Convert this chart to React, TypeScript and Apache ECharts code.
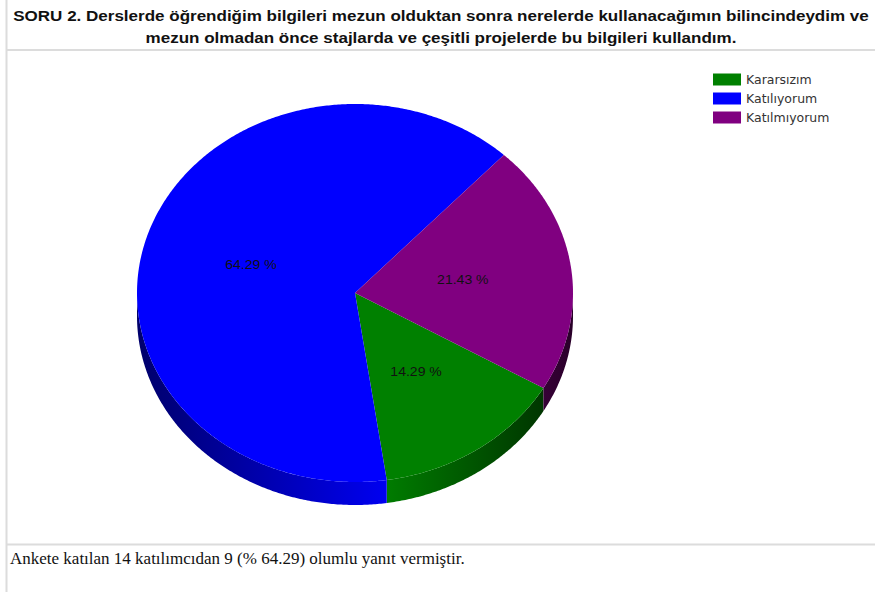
import React, { useEffect, useRef } from 'react';
import * as echarts from 'echarts';

const categories = ['Kararsızım', 'Katılıyorum', 'Katılmıyorum'];
const counts = [2, 9, 3];
const colors = ['#008000', '#0000ff', '#800080'];
const titleLines = [
  'SORU 2. Derslerde öğrendiğim bilgileri mezun olduktan sonra nerelerde kullanacağımın bilincindeydim ve',
  'mezun olmadan önce stajlarda ve çeşitli projelerde bu bilgileri kullandım.',
];
const footerText = 'Ankete katılan 14 katılımcıdan 9 (% 64.29) olumlu yanıt vermiştir.';

const CX = 355;
const CY = 293;
const RX = 218;
const RY = 189;
const DEPTH = 23;
const START = (30.2 * Math.PI) / 180;

function shade(hex: string, f: number) {
  const h = hex.replace('#', '');
  const r = Math.round(parseInt(h.slice(0, 2), 16) * f);
  const g = Math.round(parseInt(h.slice(2, 4), 16) * f);
  const b = Math.round(parseInt(h.slice(4, 6), 16) * f);
  return `rgb(${r},${g},${b})`;
}

function arcPts(a0: number, a1: number, dy: number) {
  const n = Math.max(2, Math.ceil((a1 - a0) / (Math.PI / 360)));
  const pts: number[][] = [];
  for (let i = 0; i <= n; i++) {
    const t = a0 + ((a1 - a0) * i) / n;
    pts.push([CX + RX * Math.cos(t), CY + dy + RY * Math.sin(t)]);
  }
  return pts;
}

const total = counts.reduce((a, b) => a + b, 0);

function makeRender(idx: number) {
  return (params: any, api: any) => {
    const v = api.value(0) as number;
    const before = counts.slice(0, idx).reduce((a, b) => a + b, 0);
    const a0 = START + (before / total) * Math.PI * 2;
    const a1 = a0 + (v / total) * Math.PI * 2;
    const color = colors[idx];
    const children: any[] = [];
    const fronts = [
      [0, Math.PI],
      [Math.PI * 2, Math.PI * 3],
    ];
    for (const [lo, hi] of fronts) {
      const s = Math.max(a0, lo);
      const e = Math.min(a1, hi);
      if (e > s) {
        const top = arcPts(s, e, 0);
        const bot = arcPts(s, e, DEPTH).reverse();
        children.push({
          type: 'polygon',
          shape: { points: top.concat(bot) },
          style: {
            fill: {
              type: 'linear',
              x: CX - RX,
              y: 0,
              x2: CX + RX,
              y2: 0,
              global: true,
              colorStops: [
                { offset: 0, color: shade(color, 0.42) },
                { offset: 0.58, color: shade(color, 0.95) },
                { offset: 1, color: shade(color, 0.32) },
              ],
            },
          },
        });
      }
    }
    children.push({
      type: 'polygon',
      shape: { points: [[CX, CY]].concat(arcPts(a0, a1, 0)) },
      style: { fill: color },
    });
    const m = (a0 + a1) / 2;
    children.push({
      type: 'text',
      x: CX + 0.5 * RX * Math.cos(m),
      y: CY + 0.5 * RY * Math.sin(m),
      scaleX: 1.08,
      style: {
        text: ((v / total) * 100).toFixed(2) + ' %',
        font: '13px "Liberation Sans", Arial, sans-serif',
        fill: '#111',
        align: 'center',
        verticalAlign: 'middle',
      },
    });
    return { type: 'group', children };
  };
}

export default function App() {
  const ref = useRef<HTMLDivElement>(null);
  useEffect(() => {
    if (!ref.current) return;
    const chart = echarts.init(ref.current, undefined, { renderer: 'svg' });
    chart.setOption({
      animation: false,
      backgroundColor: '#ffffff',
      legend: {
        orient: 'vertical',
        left: 708,
        top: 68,
        icon: 'rect',
        itemWidth: 28,
        itemHeight: 12,
        itemGap: 6,
        data: categories,
        textStyle: {
          fontFamily: '"DejaVu Sans", Verdana, sans-serif',
          fontSize: 12.5,
          color: '#333',
        },
      },
      series: categories.map((name, i) => ({
        type: 'custom',
        name,
        coordinateSystem: 'none',
        itemStyle: { color: colors[i] },
        data: [[counts[i]]],
        renderItem: makeRender(i),
      })),
      graphic: [
        { type: 'line', shape: { x1: 6.5, y1: 0, x2: 6.5, y2: 592 }, style: { stroke: '#dcdcdc', lineWidth: 2 } },
        { type: 'line', shape: { x1: 6, y1: 50, x2: 875, y2: 50 }, style: { stroke: '#dcdcdc', lineWidth: 2 } },
        { type: 'line', shape: { x1: 6, y1: 544.5, x2: 875, y2: 544.5 }, style: { stroke: '#dcdcdc', lineWidth: 2 } },
        ...titleLines.map((t, i) => ({
          type: 'text',
          x: 441,
          y: 15 + i * 22,
          scaleX: 1.135,
          style: {
            text: t,
            font: 'bold 15px "Liberation Sans", Arial, sans-serif',
            fill: '#111',
            align: 'center',
            verticalAlign: 'middle',
          },
        })),
        {
          type: 'text',
          x: 10,
          y: 558,
          style: {
            text: footerText,
            font: '17px "Liberation Serif", "Times New Roman", serif',
            fill: '#111',
            align: 'left',
            verticalAlign: 'middle',
          },
        },
      ],
    });
    return () => chart.dispose();
  }, []);
  return (
    <div
      ref={ref}
      style={{ position: 'absolute', left: 0, top: 0, width: 875, height: 592 }}
    />
  );
}
